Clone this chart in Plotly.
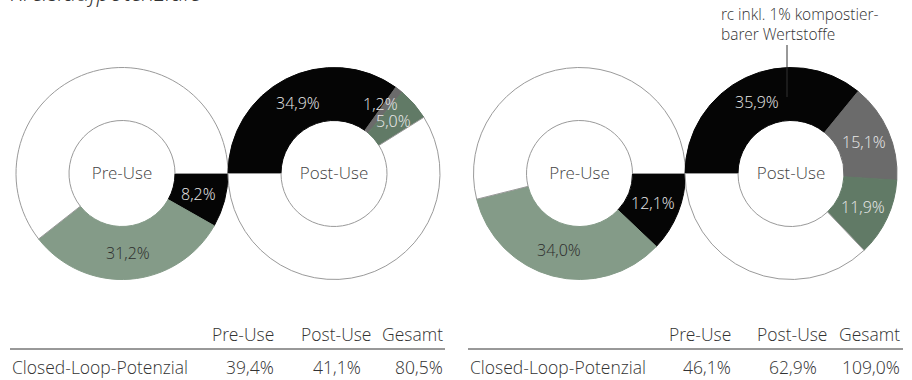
import math
import plotly.graph_objects as go

# ---- data -------------------------------------------------------------
title_text = "Kreislaufpotenziale"
hole_labels = ["Pre-Use", "Post-Use"]

left_pre = [8.2, 31.2]            # rc, Wiederverwendung
left_post = [34.9, 1.2, 5.0]      # rc, kompostierbar, Wiederverwendung
right_pre = [12.1, 34.0]
right_post = [35.9, 15.1, 11.9]

pre_colors = ["#050505", "#849b88"]
post_colors = ["#050505", "#6b6b6b", "#617a66"]
pre_text_colors = ["#e8e8e8", "#2e2e2e"]
post_text_colors = ["#e8e8e8", "#e8e8e8", "#e8e8e8"]

table_header = ["Pre-Use", "Post-Use", "Gesamt"]
row_label = "Closed-Loop-Potenzial"
note_text = "rc inkl. 1% kompostier-<br>barer Wertstoffe"

# ---- layout constants ---------------------------------------------------
W, H = 912, 380
FONT = "Open Sans Light, Open Sans"
R = 106
CY = 173.5

fig = go.Figure()
annotations = []
shapes = []


def px(x, y):
    return x / W, 1 - y / H


def fmt(v):
    return f"{v:.1f}".replace(".", ",") + "%"


def add_donut(values, colors, text_colors, cx, start_deg, hole_text, shifts=None):
    shifts = shifts or {}
    rest = round(100 - sum(values), 1)
    vals = list(values) + [rest]
    fills = list(colors) + ["#ffffff"]
    lines = list(colors) + ["#9a9a9a"]
    fig.add_trace(go.Pie(
        values=vals,
        sort=False,
        direction="clockwise",
        rotation=90 - start_deg,
        hole=0.5,
        textinfo="none",
        hoverinfo="skip",
        showlegend=False,
        marker=dict(colors=fills, line=dict(color=lines, width=1)),
        domain=dict(x=[(cx - R) / W, (cx + R) / W],
                    y=[1 - (CY + R) / H, 1 - (CY - R) / H]),
        title=dict(text=hole_text, position="middle center",
                   font=dict(family=FONT, size=17, color="#444444", weight=300)),
    ))
    # slice labels at the middle of each ring segment
    cum = 0.0
    rr = R * 0.75
    for i, v in enumerate(values):
        mid = math.radians(start_deg - (cum + v / 2) * 3.6)
        x = cx + rr * math.cos(mid)
        y = CY - rr * math.sin(mid)
        dx, dy = shifts.get(i, (0, 0))
        ax, ay = px(x + dx, y + dy)
        annotations.append(dict(
            x=ax, y=ay, xref="paper", yref="paper", text=fmt(v),
            showarrow=False, xanchor="center", yanchor="middle",
            font=dict(family=FONT, size=16, color=text_colors[i], weight=300),
        ))
        cum += v


add_donut(left_pre, pre_colors, pre_text_colors, 122, 0, hole_labels[0])
add_donut(left_post, post_colors, post_text_colors, 334, 180, hole_labels[1],
          shifts={1: (-2, -7)})
add_donut(right_pre, pre_colors, pre_text_colors, 579.5, 0, hole_labels[0])
add_donut(right_post, post_colors, post_text_colors, 791, 180, hole_labels[1])


def add_table(pre, post, x_label, x_line_end, col_right, val_right):
    totals = [sum(pre), sum(post), sum(pre) + sum(post)]
    tfont = dict(family=FONT, size=17.5, color="#333333", weight=300)
    for h, xr in zip(table_header, col_right):
        x, y = px(xr, 334)
        annotations.append(dict(x=x, y=y, xref="paper", yref="paper", text=h,
                                showarrow=False, xanchor="right", yanchor="middle",
                                font=tfont))
    x, y = px(x_label, 367)
    annotations.append(dict(x=x, y=y, xref="paper", yref="paper", text=row_label,
                            showarrow=False, xanchor="left", yanchor="middle",
                            font=tfont))
    for v, xr in zip(totals, val_right):
        x, y = px(xr, 367)
        annotations.append(dict(x=x, y=y, xref="paper", yref="paper", text=fmt(v),
                                showarrow=False, xanchor="right", yanchor="middle",
                                font=tfont))
    x0, y0 = px(x_label, 349)
    x1, _ = px(x_line_end, 349)
    shapes.append(dict(type="line", xref="paper", yref="paper", x0=x0, x1=x1,
                       y0=y0, y1=y0, line=dict(color="#333333", width=1)))


add_table(left_pre, left_post, 10, 445, [276, 373, 445], [276, 363, 445])
add_table(right_pre, right_post, 468, 903, [733, 829, 902], [733, 819, 902])

# heading (mostly above the top edge)
x, y = px(8, 9.5)
annotations.append(dict(x=x, y=y, xref="paper", yref="paper", text=title_text,
                        showarrow=False, xanchor="left", yanchor="bottom",
                        font=dict(family=FONT, size=24, color="#333333",
                                  style="italic", weight=300)))

# note with leader line to the rc segment
x, y = px(719, 24)
annotations.append(dict(x=x, y=y, xref="paper", yref="paper", text=note_text,
                        showarrow=False, xanchor="left", yanchor="middle", align="left",
                        font=dict(family=FONT, size=15.5, color="#333333", weight=300)))
x0, y0 = px(787, 45)
_, y1 = px(787, 97)
shapes.append(dict(type="line", xref="paper", yref="paper", x0=x0, x1=x0,
                   y0=y0, y1=y1, line=dict(color="#333333", width=1)))

fig.update_layout(
    width=W, height=H,
    margin=dict(l=0, r=0, t=0, b=0),
    paper_bgcolor="#ffffff",
    plot_bgcolor="#ffffff",
    annotations=annotations,
    shapes=shapes,
    font=dict(family=FONT),
)

fig.write_html("out.html")
